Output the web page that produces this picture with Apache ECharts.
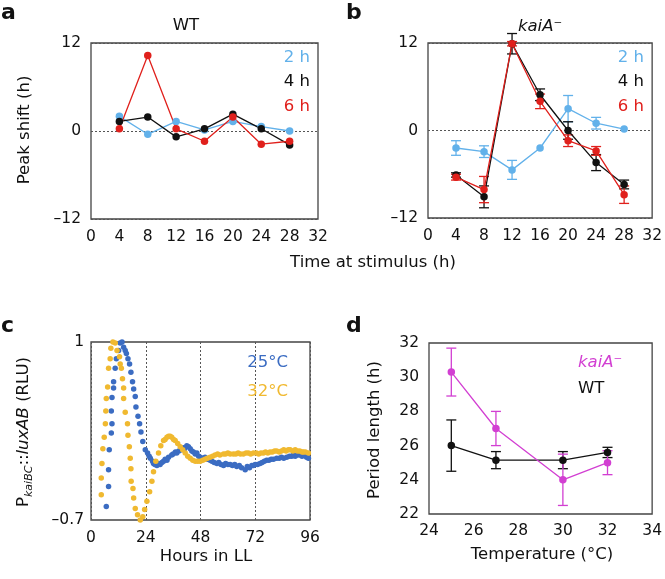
<!DOCTYPE html>
<html>
<head>
<meta charset="utf-8">
<script src="https://cdn.jsdelivr.net/npm/echarts@6/dist/echarts.min.js"></script>
<style>
html, body { margin: 0; padding: 0; background: #fff; }
#chart { width: 665px; height: 579px; }
</style>
</head>
<body>
<div id="chart"></div>
<script>
// panel a/b: peak shift vs time at stimulus
const stimHours = [4, 8, 12, 16, 20, 24, 28];
const wt2h = [2.0, -0.45, 1.3, 0.15, 1.3, 0.6, 0.0];
const wt4h = [1.3, 1.9, -0.8, 0.3, 2.3, 0.3, -1.9];
const wt6h = [0.3, 10.3, 0.3, -1.4, 1.9, -1.8, -1.4];
const kai2h = [-2.4, -2.9, -5.4, -2.4, 3.0, 1.0, 0.2];
const kai2hErr = [1.0, 0.8, 1.3, 0, 1.8, 0.8, 0];
const kai4h = [-6.1, -9.1, 11.9, 4.9, 0.0, -4.4, -7.4];
const kai4hErr = [0.3, 1.5, 1.4, 0.8, 1.2, 1.1, 0.6];
const kai6h = [-6.4, -8.1, 11.9, 4.0, -1.4, -2.8, -8.8];
const kai6hErr = [0.4, 1.8, 0.3, 1.0, 0.8, 0.6, 1.2];

// panel c: bioluminescence traces (hours in LL, normalised RLU)
const hours25 = [6.7, 7.7, 7.7, 8.0, 8.9, 9.2, 8.9, 9.2, 9.9, 9.9, 10.6, 11.1, 12.1, 12.8, 13.6, 14.3, 15.0, 15.5, 16.2, 16.9,
  17.5, 18.2, 18.7, 19.4, 19.7, 20.6, 21.3, 21.9, 22.7, 23.8, 24.8, 25.5, 26.0, 27.0, 27.4, 28.0, 28.9, 29.5, 30.3, 31.1,
  31.8, 32.5, 33.3, 34.0, 35.4, 36.0, 37.0, 37.6, 38.5, 39.8, 40.5, 41.0, 42.0, 42.7, 43.5, 44.2, 44.9, 45.7, 46.4, 47.2,
  47.9, 49.0, 50.0, 51.0, 52.2, 53.0, 54.0, 55.2, 56.0, 57.0, 58.1, 59.0, 60.0, 61.0, 62.0, 63.0, 63.9, 65.0, 66.0, 67.6,
  68.5, 69.5, 70.5, 71.2, 72.0, 73.0, 74.1, 75.0, 76.0, 77.0, 78.0, 79.0, 80.0, 81.4, 82.5, 83.5, 84.5, 85.8, 87.0, 88.0,
  88.7, 89.5, 90.5, 91.6, 92.5, 93.5, 94.5, 95.3];
const rlu25 = [-0.57, -0.38, -0.22, -0.03, 0.13, 0.22, 0.34, 0.47, 0.56, 0.62, 0.75, 0.84, 0.92, 0.99, 1.0, 0.95, 0.92, 0.89, 0.84, 0.79,
  0.71, 0.62, 0.55, 0.48, 0.38, 0.29, 0.22, 0.14, 0.05, -0.03, -0.06, -0.09, -0.11, -0.14, -0.16, -0.17, -0.18, -0.16, -0.17, -0.15,
  -0.14, -0.12, -0.13, -0.10, -0.08, -0.07, -0.05, -0.06, -0.04, -0.03, -0.01, -0.02, 0.01, 0.00, -0.02, -0.04, -0.05, -0.07, -0.06, -0.09,
  -0.10, -0.11, -0.10, -0.12, -0.13, -0.14, -0.15, -0.16, -0.15, -0.17, -0.18, -0.16, -0.17, -0.17, -0.18, -0.17, -0.19, -0.18, -0.20, -0.22,
  -0.19, -0.20, -0.18, -0.18, -0.17, -0.17, -0.16, -0.15, -0.14, -0.13, -0.13, -0.12, -0.12, -0.11, -0.11, -0.10, -0.11, -0.10, -0.09, -0.09,
  -0.08, -0.09, -0.08, -0.08, -0.09, -0.08, -0.10, -0.11];
const hours32 = [4.5, 4.5, 4.8, 5.2, 5.8, 6.3, 6.5, 6.7, 7.3, 7.7, 8.4, 8.7, 9.6, 10.6, 11.4, 12.5, 12.8, 13.3, 13.8, 14.3,
  14.3, 15.0, 16.0, 16.2, 16.8, 17.2, 17.5, 17.6, 18.4, 18.7, 19.4, 20.4, 21.6, 22.7, 23.5, 24.5, 25.7, 26.7, 27.4, 28.4,
  29.6, 30.6, 31.8, 32.5, 33.3, 34.0, 34.7, 35.4, 36.2, 36.9, 38.0, 39.1, 40.2, 41.3, 42.4, 43.5, 44.6, 45.7, 46.8, 47.9,
  49.0, 50.0, 51.0, 52.2, 53.3, 54.4, 55.5, 56.5, 58.1, 59.0, 60.0, 61.0, 62.4, 63.5, 64.5, 65.5, 66.8, 68.0, 69.0, 70.0,
  71.2, 72.5, 73.5, 74.5, 75.6, 76.5, 77.5, 78.5, 79.5, 80.5, 81.4, 82.5, 83.5, 84.5, 85.5, 86.5, 87.3, 88.5, 89.5, 90.5,
  91.5, 92.5, 93.1, 94.0, 95.3];
const rlu32 = [-0.46, -0.30, -0.16, -0.02, 0.09, 0.22, 0.34, 0.46, 0.57, 0.75, 0.84, 0.94, 1.0, 0.99, 0.92, 0.86, 0.79, 0.75, 0.65, 0.56,
  0.46, 0.33, 0.22, 0.11, 0.0, -0.11, -0.21, -0.33, -0.40, -0.49, -0.59, -0.65, -0.70, -0.67, -0.60, -0.52, -0.43, -0.33, -0.24, -0.14,
  -0.06, 0.01, 0.06, 0.07, 0.09, 0.10, 0.10, 0.09, 0.07, 0.06, 0.03, 0.00, -0.03, -0.06, -0.09, -0.11, -0.13, -0.14, -0.14, -0.14,
  -0.13, -0.12, -0.11, -0.10, -0.09, -0.08, -0.07, -0.08, -0.07, -0.07, -0.06, -0.07, -0.07, -0.07, -0.06, -0.07, -0.07, -0.06, -0.06, -0.07,
  -0.06, -0.06, -0.07, -0.06, -0.06, -0.05, -0.06, -0.05, -0.05, -0.04, -0.04, -0.05, -0.04, -0.03, -0.04, -0.03, -0.03, -0.04, -0.03, -0.04,
  -0.04, -0.05, -0.05, -0.05, -0.06];

// panel d: period length vs temperature
const temps = [25, 27, 30, 32];
const kaiPeriod = [30.3, 27.0, 24.0, 25.0];
const kaiPeriodErr = [1.4, 1.0, 1.5, 0.7];
const wtPeriod = [26.0, 25.15, 25.15, 25.6];
const wtPeriodErr = [1.5, 0.5, 0.5, 0.3];

const FONT = 'DejaVu Sans';
const C2 = '#62b1ea', C4 = '#111111', C6 = '#e0201c';
const C25 = '#3b6cc2', C32 = '#f0b930', CKAI = '#d23fd2';

const dash = v => {
    const r = Math.round(v * 10) / 10;
    return r < 0 ? '\u2013' + Math.abs(r) : String(r);
};

function axis(gridIndex, min, max, interval, margin, split) {
    return {
        type: 'value', gridIndex, min, max, interval,
        axisLine: { show: false },
        axisTick: { show: false },
        axisLabel: { color: '#111', fontSize: 15.5, fontFamily: FONT, margin, formatter: dash },
        splitLine: split
            ? { show: true, lineStyle: { color: '#555', type: [2, 2], width: 1 } }
            : { show: false },
    };
}

const pairs = (xs, ys) => xs.map((x, i) => [x, ys[i]]);
const triples = (xs, ys, es) => xs.map((x, i) => [x, ys[i], es[i]]);

function lineSeries(idx, xs, ys, color) {
    return {
        type: 'line', xAxisIndex: idx, yAxisIndex: idx,
        data: pairs(xs, ys),
        symbol: 'circle', symbolSize: 7.5,
        lineStyle: { color, width: 1.3 },
        itemStyle: { color },
    };
}

// vertical error bar with caps
function errorSeries(idx, xs, ys, es, color) {
    return {
        type: 'custom', xAxisIndex: idx, yAxisIndex: idx,
        data: triples(xs, ys, es),
        encode: { x: 0, y: 1 },
        renderItem(params, api) {
            const x = api.value(0), y = api.value(1), e = api.value(2);
            if (!e) return;
            const hi = api.coord([x, y + e]);
            const lo = api.coord([x, y - e]);
            const w = 5;
            const st = { stroke: color, lineWidth: 1.3 };
            return {
                type: 'group',
                children: [
                    { type: 'line', shape: { x1: hi[0], y1: hi[1], x2: lo[0], y2: lo[1] }, style: st },
                    { type: 'line', shape: { x1: hi[0] - w, y1: hi[1], x2: hi[0] + w, y2: hi[1] }, style: st },
                    { type: 'line', shape: { x1: lo[0] - w, y1: lo[1], x2: lo[0] + w, y2: lo[1] }, style: st },
                ],
            };
        },
    };
}

function scatterSeries(xs, ys, color) {
    return {
        type: 'scatter', xAxisIndex: 2, yAxisIndex: 2,
        data: pairs(xs, ys),
        symbolSize: 5.5,
        itemStyle: { color, opacity: 1 },
    };
}

function txt(text, x, y, opts) {
    const o = opts || {};
    return {
        type: 'text', x, y, rotation: o.rotation || 0, z: 100,
        style: {
            text,
            fill: o.color || '#111',
            fontFamily: FONT,
            fontSize: o.size || 16.5,
            fontWeight: o.weight || 'normal',
            fontStyle: o.italic ? 'italic' : 'normal',
            align: o.align || 'center',
            verticalAlign: 'middle',
            rich: o.rich,
        },
    };
}

const gridStyle = { show: true, borderColor: '#444', borderWidth: 1.3, backgroundColor: 'transparent' };

const option = {
    animation: false,
    grid: [
        Object.assign({ left: 91, top: 43, width: 227, height: 176 }, gridStyle),
        Object.assign({ left: 428, top: 43, width: 226, height: 175 }, gridStyle),
        Object.assign({ left: 91, top: 342, width: 219, height: 178 }, gridStyle),
        Object.assign({ left: 429, top: 343, width: 225, height: 171 }, gridStyle),
    ],
    xAxis: [
        axis(0, 0, 32, 4, 10, false),
        axis(1, 0, 32, 4, 10, false),
        axis(2, 0, 96, 24, 10, true),
        axis(3, 24, 34, 2, 9, false),
    ],
    yAxis: [
        axis(0, -12, 12, 12, 10, true),
        axis(1, -12, 12, 12, 10, true),
        axis(2, -0.7, 1, 1.7, 7, false),
        axis(3, 22, 32, 2, 10, false),
    ],
    series: [
        lineSeries(0, stimHours, wt2h, C2),
        lineSeries(0, stimHours, wt4h, C4),
        lineSeries(0, stimHours, wt6h, C6),

        errorSeries(1, stimHours, kai2h, kai2hErr, C2),
        lineSeries(1, stimHours, kai2h, C2),
        errorSeries(1, stimHours, kai4h, kai4hErr, C4),
        lineSeries(1, stimHours, kai4h, C4),
        errorSeries(1, stimHours, kai6h, kai6hErr, C6),
        lineSeries(1, stimHours, kai6h, C6),

        scatterSeries(hours25, rlu25, C25),
        scatterSeries(hours32, rlu32, C32),

        errorSeries(3, temps, wtPeriod, wtPeriodErr, C4),
        lineSeries(3, temps, wtPeriod, C4),
        errorSeries(3, temps, kaiPeriod, kaiPeriodErr, CKAI),
        lineSeries(3, temps, kaiPeriod, CKAI),
    ],
    graphic: [
        txt('a', 1, 13, { size: 22, weight: 'bold', align: 'left' }),
        txt('b', 346, 13, { size: 22, weight: 'bold', align: 'left' }),
        txt('c', 1, 326, { size: 22, weight: 'bold', align: 'left' }),
        txt('d', 346, 326, { size: 22, weight: 'bold', align: 'left' }),

        txt('WT', 186, 26),
        txt('kaiA\u207B', 540, 27, { italic: true }),
        txt('Peak shift (h)', 25, 130, { rotation: Math.PI / 2 }),
        txt('Time at stimulus (h)', 373, 263),
        txt('2 h', 310, 58, { align: 'right', color: C2 }),
        txt('4 h', 310, 82, { align: 'right', color: C4 }),
        txt('6 h', 310, 107, { align: 'right', color: C6 }),
        txt('2 h', 644, 58, { align: 'right', color: C2 }),
        txt('4 h', 644, 82, { align: 'right', color: C4 }),
        txt('6 h', 644, 107, { align: 'right', color: C6 }),

        txt('{n|P}{s|kaiBC}{n|::}{i|luxAB}{n| (RLU)}', 24, 432, {
            rotation: Math.PI / 2,
            rich: {
                n: { fontFamily: FONT, fontSize: 16.5, fill: '#111' },
                i: { fontFamily: FONT, fontSize: 16.5, fontStyle: 'italic', fill: '#111' },
                s: { fontFamily: FONT, fontSize: 11, fontStyle: 'italic', fill: '#111', padding: [10, 0, 0, 0] },
            },
        }),
        txt('Hours in LL', 206, 557),
        txt('25\u00B0C', 288, 363, { align: 'right', color: C25 }),
        txt('32\u00B0C', 288, 392, { align: 'right', color: C32 }),

        txt('Period length (h)', 375, 430, { rotation: Math.PI / 2 }),
        txt('Temperature (\u00B0C)', 542, 555),
        txt('kaiA\u207B', 578, 363, { align: 'left', italic: true, color: CKAI }),
        txt('WT', 578, 389, { align: 'left' }),
    ],
};

const chart = echarts.init(document.getElementById('chart'), null, { renderer: 'canvas' });
chart.setOption(option);
window.onresize = function () {
    chart.resize();
};
</script>
</body>
</html>
